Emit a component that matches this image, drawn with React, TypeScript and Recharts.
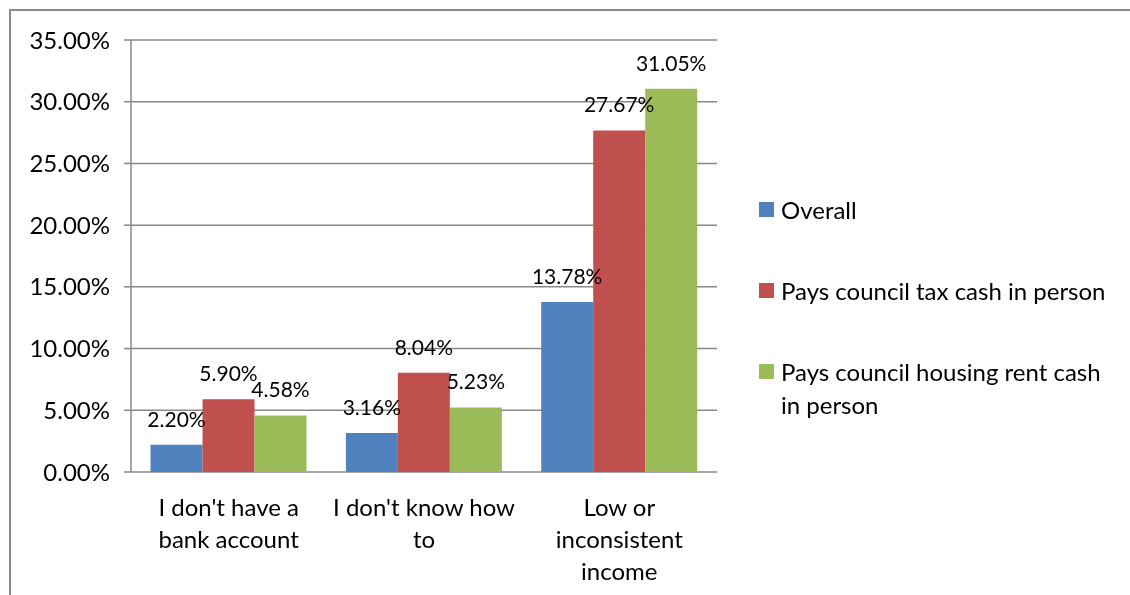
import { BarChart, Bar, XAxis, YAxis, CartesianGrid, Legend, LabelList } from 'recharts'

const categories = ["I don't have a bank account", "I don't know how to", 'Low or inconsistent income']
const overall = [2.2, 3.16, 13.78]
const councilTax = [5.9, 8.04, 27.67]
const councilRent = [4.58, 5.23, 31.05]
const yTicks = [0, 5, 10, 15, 20, 25, 30, 35]
const edgeTicks = [0, 1, 2, 3]

const seriesNames = ['Overall', 'Pays council tax cash in person', 'Pays council housing rent cash in person']
const seriesColors = ['#4F81BD', '#C0504D', '#9BBB59']
const seriesKeys = ['overall', 'councilTax', 'councilRent']

const FONT = "Lato, 'Open Sans', sans-serif"
const GREY = '#898989'

const data = categories.map((name, i) => ({
  name,
  overall: overall[i],
  councilTax: councilTax[i],
  councilRent: councilRent[i],
}))

const pct = (v: any) => `${Number(v).toFixed(2)}%`

// word wrap using canvas measurement
let ctx: CanvasRenderingContext2D | null = null
const wrap = (text: string, maxW: number, font: string) => {
  if (!ctx) ctx = document.createElement('canvas').getContext('2d')
  ctx!.font = font
  const lines: string[] = []
  let cur = ''
  text.split(' ').forEach((w) => {
    const next = cur ? cur + ' ' + w : w
    if (cur && ctx!.measureText(next).width > maxW) {
      lines.push(cur)
      cur = w
    } else cur = next
  })
  if (cur) lines.push(cur)
  return lines
}

const CategoryTick = (props: any) => {
  const { x, y, payload } = props
  const lines = wrap(String(payload.value), 190, '24px Lato')
  return (
    <text x={x} y={y + 44} textAnchor="middle" fontSize={24} fontFamily={FONT} fill="#000">
      {lines.map((l, i) => (
        <tspan key={i} x={x} dy={i === 0 ? 0 : 32}>
          {l}
        </tspan>
      ))}
    </text>
  )
}

const LegendBox = () => (
  <div style={{ fontFamily: FONT, fontSize: 24, lineHeight: '33px', color: '#000', textAlign: 'left' }}>
    {seriesNames.map((n, i) => (
      <div key={n} style={{ display: 'flex', alignItems: 'flex-start', marginBottom: 48 }}>
        <span style={{ width: 15, height: 15, background: seriesColors[i], marginTop: 9, marginRight: 7, flex: 'none' }} />
        <span style={{ width: 335 }}>{n}</span>
      </div>
    ))}
  </div>
)

const App = () => {
  return (
    <div style={{ position: 'relative', width: 1114, height: 579 }}>
      {/* chart frame, cut off at the right and bottom like the source */}
      <div
        style={{
          position: 'fixed',
          left: 9,
          top: 9,
          width: 1300,
          height: 800,
          border: `2px solid ${GREY}`,
        }}
      />
      <BarChart
        width={1114}
        height={579}
        data={data}
        margin={{ top: 32, right: 405, left: 0, bottom: 15 }}
        barCategoryGap="10%"
        barGap={0}
        style={{ position: 'absolute', left: 0, top: 0 }}
      >
        <CartesianGrid vertical={false} stroke={GREY} strokeWidth={1.5} />
        <XAxis
          dataKey="name"
          height={100}
          axisLine={false}
          tickLine={false}
          tickSize={0}
          tickMargin={0}
          interval={0}
          tick={<CategoryTick />}
        />
        <XAxis
          xAxisId="edge"
          type="number"
          domain={[0, 3]}
          ticks={edgeTicks}
          allowDataOverflow
          interval={0}
          height={0}
          tickSize={8}
          tick={() => <g />}
          axisLine={{ stroke: GREY, strokeWidth: 1.5 }}
          tickLine={{ stroke: GREY, strokeWidth: 1.5 }}
        />
        <YAxis
          width={123}
          domain={[0, 35]}
          ticks={yTicks}
          interval={0}
          tickFormatter={pct}
          tickSize={7}
          tickMargin={14}
          axisLine={{ stroke: GREY, strokeWidth: 1.5 }}
          tickLine={{ stroke: GREY, strokeWidth: 1.5 }}
          tick={{ fill: '#000', fontSize: 24, fontFamily: FONT }}
        />
        <Legend
          content={<LegendBox />}
          layout="vertical"
          align="center"
          verticalAlign="middle"
          wrapperStyle={{ left: 751, top: 185, width: 360 }}
        />
        {seriesKeys.map((k, i) => (
          <Bar key={k} dataKey={k} name={seriesNames[i]} fill={seriesColors[i]} isAnimationActive={false}>
            <LabelList dataKey={k} position="top" offset={18} formatter={pct} fill="#000" fontSize={21} fontFamily={FONT} />
          </Bar>
        ))}
      </BarChart>
    </div>
  )
}

export default App
